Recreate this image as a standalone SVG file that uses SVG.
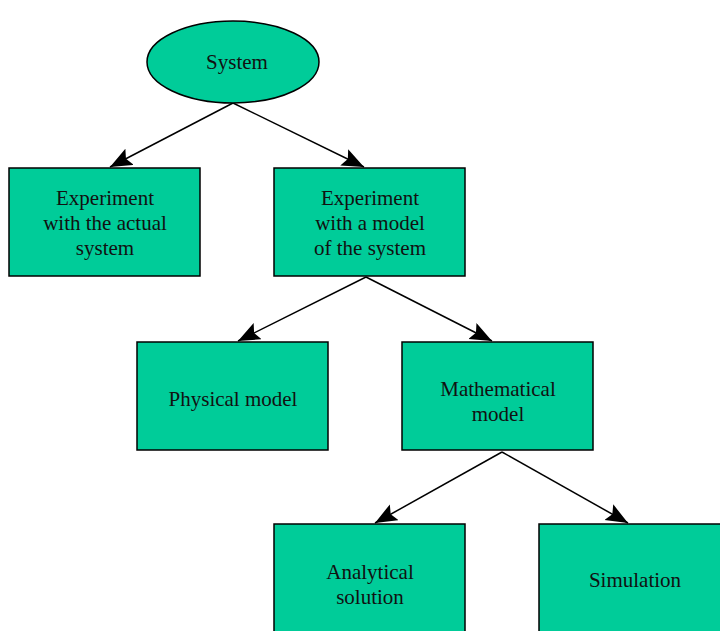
<svg xmlns="http://www.w3.org/2000/svg" width="720" height="631" viewBox="0 0 720 631">
<style>
.n{fill:#00CC99;stroke:#000;stroke-width:1.5}
.t{font-family:"Liberation Serif","Times New Roman",serif;font-size:21px;fill:#111;text-anchor:middle;dominant-baseline:central}
.e{stroke:#000;stroke-width:1.5;fill:none;marker-end:url(#ah)}
</style>
<defs>
<marker id="ah" markerUnits="userSpaceOnUse" markerWidth="24" markerHeight="20" refX="22" refY="9" orient="auto" viewBox="0 0 24 20">
<path d="M0,0 L22,9 L0,18 L4,9 Z" fill="#000"/>
</marker>
</defs>
<g id="connectors">
<line class="e" x1="233" y1="103" x2="110" y2="167"/>
<line class="e" x1="233" y1="103" x2="364" y2="167"/>
<line class="e" x1="366" y1="277" x2="238" y2="341"/>
<line class="e" x1="366" y1="277" x2="492" y2="341"/>
<line class="e" x1="502" y1="452" x2="375" y2="523"/>
<line class="e" x1="502" y1="452" x2="628" y2="523"/>
</g>
<g id="system">
<ellipse class="n" cx="233" cy="62" rx="86" ry="41"/>
<text class="t" x="237" y="62">System</text>
</g>
<g id="actual">
<rect class="n" x="9" y="168" width="191" height="108"/>
<text class="t" x="105" y="198">Experiment</text>
<text class="t" x="105" y="223">with the actual</text>
<text class="t" x="105" y="248">system</text>
</g>
<g id="model">
<rect class="n" x="274" y="168" width="191" height="108"/>
<text class="t" x="370" y="198">Experiment</text>
<text class="t" x="370" y="223">with a model</text>
<text class="t" x="370" y="248">of the system</text>
</g>
<g id="physical">
<rect class="n" x="137" y="342" width="191" height="108"/>
<text class="t" x="233" y="399">Physical model</text>
</g>
<g id="math">
<rect class="n" x="402" y="342" width="191" height="108"/>
<text class="t" x="498" y="389">Mathematical</text>
<text class="t" x="498" y="414">model</text>
</g>
<g id="analytical">
<rect class="n" x="274" y="524" width="191" height="110"/>
<text class="t" x="370" y="572">Analytical</text>
<text class="t" x="370" y="597">solution</text>
</g>
<g id="simulation">
<rect class="n" x="539" y="524" width="191" height="110"/>
<text class="t" x="635" y="580">Simulation</text>
</g>
</svg>
